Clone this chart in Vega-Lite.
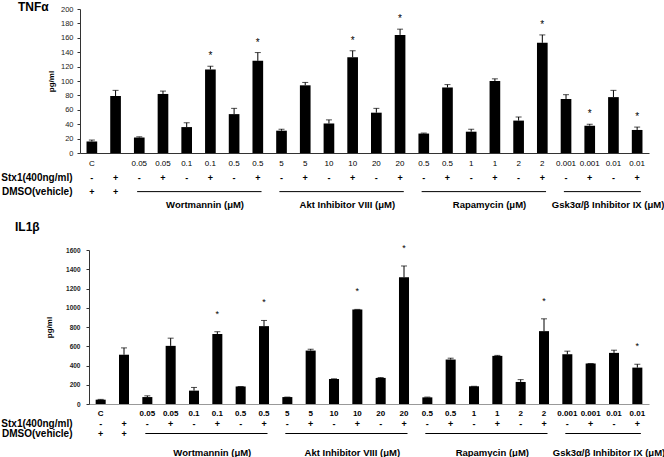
{
  "$schema": "https://vega.github.io/schema/vega-lite/v6.json",
  "background": "white",
  "padding": {"left": 0, "top": 1, "right": 0, "bottom": 0},
  "spacing": 0,
  "config": {"font": "Liberation Sans", "view": {"stroke": null}},
  "datasets": {
    "bars": [
      {"id": 1, "dose": "C", "stx": "-", "dmso": "+", "tnf": 16, "tnfErr": 18, "tnfStar": false, "il": 45, "ilErr": 48, "ilStar": false},
      {"id": 2, "dose": "", "stx": "+", "dmso": "+", "tnf": 79, "tnfErr": 87, "tnfStar": false, "il": 512, "ilErr": 583, "ilStar": false},
      {"id": 3, "dose": "0.05", "stx": "-", "dmso": "", "tnf": 21.5, "tnfErr": 22.5, "tnfStar": false, "il": 72, "ilErr": 85, "ilStar": false},
      {"id": 4, "dose": "0.05", "stx": "+", "dmso": "", "tnf": 82, "tnfErr": 86, "tnfStar": false, "il": 604, "ilErr": 684, "ilStar": false},
      {"id": 5, "dose": "0.1", "stx": "-", "dmso": "", "tnf": 36, "tnfErr": 42, "tnfStar": false, "il": 139, "ilErr": 172, "ilStar": false},
      {"id": 6, "dose": "0.1", "stx": "+", "dmso": "", "tnf": 116, "tnfErr": 120.5, "tnfStar": true, "il": 727, "ilErr": 751, "ilStar": true},
      {"id": 7, "dose": "0.5", "stx": "-", "dmso": "", "tnf": 54, "tnfErr": 62, "tnfStar": false, "il": 182, "ilErr": 182, "ilStar": false},
      {"id": 8, "dose": "0.5", "stx": "+", "dmso": "", "tnf": 128, "tnfErr": 139.5, "tnfStar": true, "il": 809, "ilErr": 868, "ilStar": true},
      {"id": 9, "dose": "5", "stx": "-", "dmso": "", "tnf": 31, "tnfErr": 33, "tnfStar": false, "il": 72, "ilErr": 72, "ilStar": false},
      {"id": 10, "dose": "5", "stx": "+", "dmso": "", "tnf": 94, "tnfErr": 98, "tnfStar": false, "il": 555, "ilErr": 569, "ilStar": false},
      {"id": 11, "dose": "10", "stx": "-", "dmso": "", "tnf": 41, "tnfErr": 46, "tnfStar": false, "il": 260, "ilErr": 262, "ilStar": false},
      {"id": 12, "dose": "10", "stx": "+", "dmso": "", "tnf": 133, "tnfErr": 142, "tnfStar": true, "il": 983, "ilErr": 983, "ilStar": true},
      {"id": 13, "dose": "20", "stx": "-", "dmso": "", "tnf": 56, "tnfErr": 62, "tnfStar": false, "il": 271, "ilErr": 275, "ilStar": false},
      {"id": 14, "dose": "20", "stx": "+", "dmso": "", "tnf": 164, "tnfErr": 172, "tnfStar": true, "il": 1316, "ilErr": 1434, "ilStar": true},
      {"id": 15, "dose": "0.5", "stx": "-", "dmso": "", "tnf": 27, "tnfErr": 27.7, "tnfStar": false, "il": 69, "ilErr": 72, "ilStar": false},
      {"id": 16, "dose": "0.5", "stx": "+", "dmso": "", "tnf": 91, "tnfErr": 95, "tnfStar": false, "il": 462, "ilErr": 476, "ilStar": false},
      {"id": 17, "dose": "1", "stx": "-", "dmso": "", "tnf": 29.6, "tnfErr": 33, "tnfStar": false, "il": 184, "ilErr": 184, "ilStar": false},
      {"id": 18, "dose": "1", "stx": "+", "dmso": "", "tnf": 100, "tnfErr": 103, "tnfStar": false, "il": 500, "ilErr": 505, "ilStar": false},
      {"id": 19, "dose": "2", "stx": "-", "dmso": "", "tnf": 45, "tnfErr": 50, "tnfStar": false, "il": 229, "ilErr": 253, "ilStar": false},
      {"id": 20, "dose": "2", "stx": "+", "dmso": "", "tnf": 153, "tnfErr": 164, "tnfStar": true, "il": 757, "ilErr": 885, "ilStar": true},
      {"id": 21, "dose": "0.001", "stx": "-", "dmso": "", "tnf": 75, "tnfErr": 81, "tnfStar": false, "il": 517, "ilErr": 549, "ilStar": false},
      {"id": 22, "dose": "0.001", "stx": "+", "dmso": "", "tnf": 38, "tnfErr": 40, "tnfStar": true, "il": 420, "ilErr": 420, "ilStar": false},
      {"id": 23, "dose": "0.01", "stx": "-", "dmso": "", "tnf": 77.6, "tnfErr": 87, "tnfStar": false, "il": 531, "ilErr": 559, "ilStar": false},
      {"id": 24, "dose": "0.01", "stx": "+", "dmso": "", "tnf": 32, "tnfErr": 36, "tnfStar": true, "il": 378, "ilErr": 413, "ilStar": true}
    ],
    "groups": [
      {"group": "Wortmannin (μM)", "first": 3, "last": 8, "mid": 6},
      {"group": "Akt Inhibitor VIII (μM)", "first": 9, "last": 14, "mid": 12},
      {"group": "Rapamycin (μM)", "first": 15, "last": 20, "mid": 18},
      {"group": "Gsk3α/β Inhibitor IX (μM)", "first": 21, "last": 24, "mid": 23}
    ]
  },
  "vconcat": [
    {
      "width": 569,
      "height": 144,
      "title": {"text": "TNFα", "anchor": "start", "frame": "group", "dx": -62, "offset": -18, "baseline": "alphabetic", "fontSize": 12, "fontWeight": "bold", "color": "black"},
      "data": {"name": "bars"},
      "encoding": {
        "x": {"field": "id", "type": "ordinal", "scale": {"domain": [1,2,3,4,5,6,7,8,9,10,11,12,13,14,15,16,17,18,19,20,21,22,23,24], "paddingInner": 0.55},
              "axis": {"labels": false, "ticks": false, "title": null, "domainColor": "#333"}}
      },
      "layer": [
        {"mark": {"type": "bar", "color": "black"},
         "encoding": {"y": {"field": "tnf", "type": "quantitative", "scale": {"domain": [0, 200], "nice": false},
           "axis": {"values": [0,20,40,60,80,100,120,140,160,180,200], "tickCount": 11, "format": "d", "labelOverlap": false, "title": "pg/ml", "titleFontSize": 8, "titleFontWeight": "bold", "titleColor": "black", "titlePadding": 5, "labelFontSize": 7.5, "labelColor": "#222", "labelPadding": 4, "tickSize": 3, "tickColor": "#333", "domainColor": "#333", "grid": false, "minExtent": 0}}}},
        {"mark": {"type": "rule", "color": "black"},
         "encoding": {"y": {"field": "tnf", "type": "quantitative",
           "axis": {"values": [0,20,40,60,80,100,120,140,160,180,200], "tickCount": 11, "format": "d", "labelOverlap": false, "title": "pg/ml", "titleFontSize": 8, "titleFontWeight": "bold", "titleColor": "black", "titlePadding": 5, "labelFontSize": 7.5, "labelColor": "#222", "labelPadding": 4, "tickSize": 3, "tickColor": "#333", "domainColor": "#333", "grid": false, "minExtent": 0}}, "y2": {"field": "tnfErr"}}},
        {"mark": {"type": "tick", "color": "black", "size": 6, "thickness": 1},
         "encoding": {"y": {"field": "tnfErr", "type": "quantitative",
           "axis": {"values": [0,20,40,60,80,100,120,140,160,180,200], "tickCount": 11, "format": "d", "labelOverlap": false, "title": "pg/ml", "titleFontSize": 8, "titleFontWeight": "bold", "titleColor": "black", "titlePadding": 5, "labelFontSize": 7.5, "labelColor": "#222", "labelPadding": 4, "tickSize": 3, "tickColor": "#333", "domainColor": "#333", "grid": false, "minExtent": 0}}}},
        {"transform": [{"filter": "datum.tnfStar"}],
         "mark": {"type": "text", "text": "*", "fontSize": 10, "baseline": "middle", "dy": -10, "color": "black"},
         "encoding": {"y": {"field": "tnfErr", "type": "quantitative",
           "axis": {"values": [0,20,40,60,80,100,120,140,160,180,200], "tickCount": 11, "format": "d", "labelOverlap": false, "title": "pg/ml", "titleFontSize": 8, "titleFontWeight": "bold", "titleColor": "black", "titlePadding": 5, "labelFontSize": 7.5, "labelColor": "#222", "labelPadding": 4, "tickSize": 3, "tickColor": "#333", "domainColor": "#333", "grid": false, "minExtent": 0}}}}
      ]
    },
    {
      "width": 569,
      "height": 63,
      "layer": [
        {"data": {"name": "bars"},
         "mark": {"type": "text", "fontSize": 8, "color": "black", "baseline": "middle"},
         "encoding": {
           "x": {"field": "id", "type": "ordinal", "scale": {"domain": [1,2,3,4,5,6,7,8,9,10,11,12,13,14,15,16,17,18,19,20,21,22,23,24], "paddingInner": 0.55}, "axis": null},
           "y": {"datum": "dose", "type": "ordinal", "scale": {"type": "point", "domain": ["dose", "Stx1(400ng/ml)", "DMSO(vehicle)", "group"], "padding": 0.8, "align": 0.33},
                 "axis": {"domain": false, "ticks": false, "title": null, "labelExpr": "datum.value == 'dose' || datum.value == 'group' ? '' : datum.value", "labelFontSize": 10, "labelFontWeight": "bold", "labelColor": "black", "labelPadding": 8}},
           "text": {"field": "dose"}}},
        {"data": {"name": "bars"},
         "mark": {"type": "text", "fontSize": 9, "fontWeight": "bold", "color": "black", "baseline": "middle"},
         "encoding": {
           "x": {"field": "id", "type": "ordinal", "axis": null},
           "y": {"datum": "Stx1(400ng/ml)", "type": "ordinal"},
           "text": {"field": "stx"}}},
        {"data": {"name": "bars"},
         "mark": {"type": "text", "fontSize": 9, "fontWeight": "bold", "color": "black", "baseline": "middle"},
         "encoding": {
           "x": {"field": "id", "type": "ordinal", "axis": null},
           "y": {"datum": "DMSO(vehicle)", "type": "ordinal"},
           "text": {"field": "dmso"}}},
        {"data": {"name": "groups"},
         "mark": {"type": "rule", "color": "black", "strokeWidth": 1},
         "encoding": {
           "x": {"field": "first", "type": "ordinal", "bandPosition": 0.3, "axis": null},
           "x2": {"field": "last", "bandPosition": 0.85},
           "y": {"datum": "DMSO(vehicle)", "type": "ordinal"}}},
        {"data": {"name": "groups"},
         "mark": {"type": "text", "fontSize": 9.5, "fontWeight": "bold", "color": "black", "baseline": "middle"},
         "encoding": {
           "x": {"field": "mid", "type": "ordinal", "bandPosition": 0, "axis": null},
           "y": {"datum": "group", "type": "ordinal"},
           "text": {"field": "group"}}}
      ]
    },
    {
      "width": 569,
      "height": 154,
      "title": {"text": "IL1β", "anchor": "start", "frame": "group", "dx": -65, "offset": 1, "baseline": "alphabetic", "fontSize": 12, "fontWeight": "bold", "color": "black"},
      "data": {"name": "bars"},
      "encoding": {
        "x": {"field": "id", "type": "ordinal", "scale": {"domain": [1,2,3,4,5,6,7,8,9,10,11,12,13,14,15,16,17,18,19,20,21,22,23,24], "paddingInner": 0.57, "range": [9, 569]},
              "axis": {"labels": false, "ticks": false, "title": null, "domainColor": "#999"}}
      },
      "layer": [
        {"mark": {"type": "bar", "color": "black"},
         "encoding": {"y": {"field": "il", "type": "quantitative", "scale": {"domain": [0, 1600], "nice": false},
           "axis": {"values": [0,200,400,600,800,1000,1200,1400,1600], "tickCount": 9, "format": "d", "labelOverlap": false, "offset": -9, "title": "pg/ml", "titleFontSize": 8, "titleFontWeight": "bold", "titleColor": "black", "titlePadding": 12, "labelFontSize": 6.5, "labelFontWeight": "bold", "labelColor": "#222", "labelPadding": 6, "tickSize": 3, "tickColor": "#333", "domainColor": "#333", "grid": false, "minExtent": 0}}}},
        {"mark": {"type": "rule", "color": "black"},
         "encoding": {"y": {"field": "il", "type": "quantitative",
           "axis": {"values": [0,200,400,600,800,1000,1200,1400,1600], "tickCount": 9, "format": "d", "labelOverlap": false, "offset": -9, "title": "pg/ml", "titleFontSize": 8, "titleFontWeight": "bold", "titleColor": "black", "titlePadding": 12, "labelFontSize": 6.5, "labelFontWeight": "bold", "labelColor": "#222", "labelPadding": 6, "tickSize": 3, "tickColor": "#333", "domainColor": "#333", "grid": false, "minExtent": 0}}, "y2": {"field": "ilErr"}}},
        {"mark": {"type": "tick", "color": "black", "size": 6, "thickness": 1},
         "encoding": {"y": {"field": "ilErr", "type": "quantitative",
           "axis": {"values": [0,200,400,600,800,1000,1200,1400,1600], "tickCount": 9, "format": "d", "labelOverlap": false, "offset": -9, "title": "pg/ml", "titleFontSize": 8, "titleFontWeight": "bold", "titleColor": "black", "titlePadding": 12, "labelFontSize": 6.5, "labelFontWeight": "bold", "labelColor": "#222", "labelPadding": 6, "tickSize": 3, "tickColor": "#333", "domainColor": "#333", "grid": false, "minExtent": 0}}}},
        {"transform": [{"filter": "datum.ilStar"}],
         "mark": {"type": "text", "text": "*", "fontSize": 9, "baseline": "middle", "dy": -18, "color": "black"},
         "encoding": {"y": {"field": "ilErr", "type": "quantitative",
           "axis": {"values": [0,200,400,600,800,1000,1200,1400,1600], "tickCount": 9, "format": "d", "labelOverlap": false, "offset": -9, "title": "pg/ml", "titleFontSize": 8, "titleFontWeight": "bold", "titleColor": "black", "titlePadding": 12, "labelFontSize": 6.5, "labelFontWeight": "bold", "labelColor": "#222", "labelPadding": 6, "tickSize": 3, "tickColor": "#333", "domainColor": "#333", "grid": false, "minExtent": 0}}}}
      ]
    },
    {
      "width": 569,
      "height": 54.6,
      "layer": [
        {"data": {"name": "bars"},
         "mark": {"type": "text", "fontSize": 8, "fontWeight": "bold", "color": "black", "baseline": "middle"},
         "encoding": {
           "x": {"field": "id", "type": "ordinal", "scale": {"domain": [1,2,3,4,5,6,7,8,9,10,11,12,13,14,15,16,17,18,19,20,21,22,23,24], "paddingInner": 0.57, "range": [9, 569]}, "axis": null},
           "y": {"datum": "dose", "type": "ordinal", "scale": {"type": "point", "domain": ["dose", "Stx1(400ng/ml)", "DMSO(vehicle)", "gap", "group"], "padding": 0.8, "align": 0.385},
                 "axis": {"domain": false, "ticks": false, "title": null, "labelExpr": "datum.value == 'dose' || datum.value == 'group' || datum.value == 'gap' ? '' : datum.value", "labelFontSize": 10, "labelFontWeight": "bold", "labelColor": "black", "labelPadding": 8}},
           "text": {"field": "dose"}}},
        {"data": {"name": "bars"},
         "mark": {"type": "text", "fontSize": 9, "fontWeight": "bold", "color": "black", "baseline": "middle"},
         "encoding": {
           "x": {"field": "id", "type": "ordinal", "axis": null},
           "y": {"datum": "Stx1(400ng/ml)", "type": "ordinal"},
           "text": {"field": "stx"}}},
        {"data": {"name": "bars"},
         "mark": {"type": "text", "fontSize": 9, "fontWeight": "bold", "color": "black", "baseline": "middle"},
         "encoding": {
           "x": {"field": "id", "type": "ordinal", "axis": null},
           "y": {"datum": "DMSO(vehicle)", "type": "ordinal"},
           "text": {"field": "dmso"}}},
        {"data": {"name": "groups"},
         "mark": {"type": "rule", "color": "black", "strokeWidth": 1},
         "encoding": {
           "x": {"field": "first", "type": "ordinal", "bandPosition": 0.3, "axis": null},
           "x2": {"field": "last", "bandPosition": 0.85},
           "y": {"datum": "DMSO(vehicle)", "type": "ordinal"}}},
        {"data": {"name": "groups"},
         "mark": {"type": "text", "fontSize": 9.5, "fontWeight": "bold", "color": "black", "baseline": "middle"},
         "encoding": {
           "x": {"field": "mid", "type": "ordinal", "bandPosition": 0, "axis": null},
           "y": {"datum": "group", "type": "ordinal"},
           "text": {"field": "group"}}}
      ]
    }
  ]
}
